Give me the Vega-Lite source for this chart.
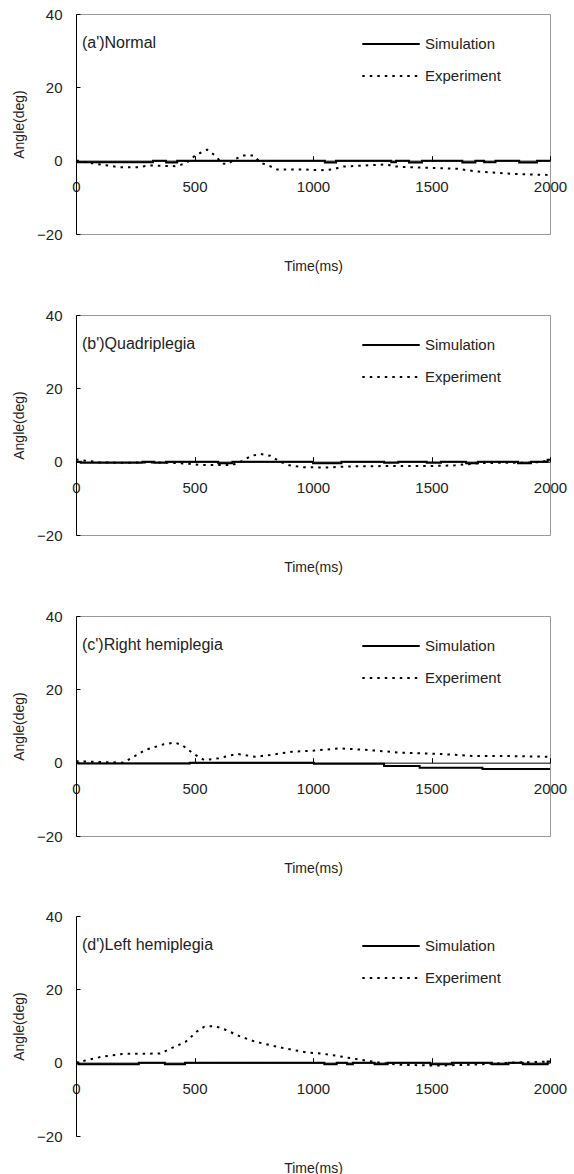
{
  "$schema": "https://vega.github.io/schema/vega-lite/v6.json",
  "padding": {"left": 12, "top": 6, "right": 5, "bottom": 0},
  "spacing": 32,
  "config": {
    "font": "Liberation Sans",
    "view": {"stroke": "#999", "strokeWidth": 1},
    "legend": {"orient": "none", "legendX": 285, "legendY": 20, "title": null, "symbolType": "stroke", "symbolSize": 3300, "symbolStrokeWidth": 2, "symbolStrokeColor": "black", "labelFontSize": 15, "labelColor": "#222", "labelOffset": 4, "clipHeight": 20, "rowPadding": 12}
  },
  "resolve": {"legend": {"strokeDash": "independent"}},
  "datasets": {
    "d": [
      {"p": "a", "s": "Simulation", "t": 0, "v": 0},
      {"p": "a", "s": "Simulation", "t": 8, "v": -0.4},
      {"p": "a", "s": "Simulation", "t": 325, "v": 0},
      {"p": "a", "s": "Simulation", "t": 380, "v": -0.5},
      {"p": "a", "s": "Simulation", "t": 427, "v": 0},
      {"p": "a", "s": "Simulation", "t": 1050, "v": -0.5},
      {"p": "a", "s": "Simulation", "t": 1097, "v": 0},
      {"p": "a", "s": "Simulation", "t": 1330, "v": -0.4},
      {"p": "a", "s": "Simulation", "t": 1350, "v": 0},
      {"p": "a", "s": "Simulation", "t": 1405, "v": -0.5},
      {"p": "a", "s": "Simulation", "t": 1460, "v": 0},
      {"p": "a", "s": "Simulation", "t": 1630, "v": -0.5},
      {"p": "a", "s": "Simulation", "t": 1685, "v": 0},
      {"p": "a", "s": "Simulation", "t": 1722, "v": -0.4},
      {"p": "a", "s": "Simulation", "t": 1770, "v": 0},
      {"p": "a", "s": "Simulation", "t": 1870, "v": -0.5},
      {"p": "a", "s": "Simulation", "t": 1945, "v": 0},
      {"p": "a", "s": "Simulation", "t": 2000, "v": 0},
      {"p": "a", "s": "Experiment", "t": 0, "v": 0},
      {"p": "a", "s": "Experiment", "t": 76, "v": -0.8},
      {"p": "a", "s": "Experiment", "t": 185, "v": -1.8},
      {"p": "a", "s": "Experiment", "t": 262, "v": -1.8},
      {"p": "a", "s": "Experiment", "t": 308, "v": -1.3},
      {"p": "a", "s": "Experiment", "t": 417, "v": -1.5},
      {"p": "a", "s": "Experiment", "t": 455, "v": -0.9},
      {"p": "a", "s": "Experiment", "t": 479, "v": 0},
      {"p": "a", "s": "Experiment", "t": 502, "v": 1.4},
      {"p": "a", "s": "Experiment", "t": 553, "v": 3.0},
      {"p": "a", "s": "Experiment", "t": 587, "v": 1.4},
      {"p": "a", "s": "Experiment", "t": 618, "v": -0.8},
      {"p": "a", "s": "Experiment", "t": 641, "v": -0.9},
      {"p": "a", "s": "Experiment", "t": 671, "v": 0.4},
      {"p": "a", "s": "Experiment", "t": 703, "v": 1.4},
      {"p": "a", "s": "Experiment", "t": 749, "v": 1.4},
      {"p": "a", "s": "Experiment", "t": 780, "v": -0.6},
      {"p": "a", "s": "Experiment", "t": 818, "v": -1.5},
      {"p": "a", "s": "Experiment", "t": 849, "v": -2.4},
      {"p": "a", "s": "Experiment", "t": 957, "v": -2.4},
      {"p": "a", "s": "Experiment", "t": 1034, "v": -2.6},
      {"p": "a", "s": "Experiment", "t": 1081, "v": -2.4},
      {"p": "a", "s": "Experiment", "t": 1127, "v": -1.6},
      {"p": "a", "s": "Experiment", "t": 1220, "v": -1.3},
      {"p": "a", "s": "Experiment", "t": 1312, "v": -1.0},
      {"p": "a", "s": "Experiment", "t": 1336, "v": -1.5},
      {"p": "a", "s": "Experiment", "t": 1374, "v": -1.7},
      {"p": "a", "s": "Experiment", "t": 1608, "v": -2.2},
      {"p": "a", "s": "Experiment", "t": 1684, "v": -2.9},
      {"p": "a", "s": "Experiment", "t": 1838, "v": -3.6},
      {"p": "a", "s": "Experiment", "t": 1995, "v": -3.9},
      {"p": "b", "s": "Simulation", "t": 0, "v": 0},
      {"p": "b", "s": "Simulation", "t": 20, "v": -0.3},
      {"p": "b", "s": "Simulation", "t": 280, "v": 0},
      {"p": "b", "s": "Simulation", "t": 330, "v": -0.3},
      {"p": "b", "s": "Simulation", "t": 380, "v": 0},
      {"p": "b", "s": "Simulation", "t": 600, "v": -0.4},
      {"p": "b", "s": "Simulation", "t": 660, "v": 0},
      {"p": "b", "s": "Simulation", "t": 1000, "v": -0.4},
      {"p": "b", "s": "Simulation", "t": 1120, "v": 0},
      {"p": "b", "s": "Simulation", "t": 1300, "v": -0.3},
      {"p": "b", "s": "Simulation", "t": 1360, "v": 0},
      {"p": "b", "s": "Simulation", "t": 1480, "v": -0.3},
      {"p": "b", "s": "Simulation", "t": 1540, "v": 0},
      {"p": "b", "s": "Simulation", "t": 1646, "v": -0.4},
      {"p": "b", "s": "Simulation", "t": 1696, "v": 0},
      {"p": "b", "s": "Simulation", "t": 1865, "v": -0.4},
      {"p": "b", "s": "Simulation", "t": 1920, "v": 0},
      {"p": "b", "s": "Simulation", "t": 1990, "v": 0.5},
      {"p": "b", "s": "Simulation", "t": 2000, "v": 0.5},
      {"p": "b", "s": "Experiment", "t": 0, "v": 0.6},
      {"p": "b", "s": "Experiment", "t": 50, "v": 0.2},
      {"p": "b", "s": "Experiment", "t": 100, "v": -0.2},
      {"p": "b", "s": "Experiment", "t": 200, "v": -0.3},
      {"p": "b", "s": "Experiment", "t": 300, "v": -0.2},
      {"p": "b", "s": "Experiment", "t": 400, "v": -0.3},
      {"p": "b", "s": "Experiment", "t": 480, "v": -0.6},
      {"p": "b", "s": "Experiment", "t": 520, "v": -0.9},
      {"p": "b", "s": "Experiment", "t": 600, "v": -0.9},
      {"p": "b", "s": "Experiment", "t": 660, "v": -0.9},
      {"p": "b", "s": "Experiment", "t": 700, "v": 0.1},
      {"p": "b", "s": "Experiment", "t": 740, "v": 1.6},
      {"p": "b", "s": "Experiment", "t": 780, "v": 2.1},
      {"p": "b", "s": "Experiment", "t": 820, "v": 1.6},
      {"p": "b", "s": "Experiment", "t": 860, "v": 0},
      {"p": "b", "s": "Experiment", "t": 900, "v": -1.0},
      {"p": "b", "s": "Experiment", "t": 960, "v": -1.5},
      {"p": "b", "s": "Experiment", "t": 1050, "v": -1.6},
      {"p": "b", "s": "Experiment", "t": 1150, "v": -1.3},
      {"p": "b", "s": "Experiment", "t": 1300, "v": -1.2},
      {"p": "b", "s": "Experiment", "t": 1500, "v": -1.2},
      {"p": "b", "s": "Experiment", "t": 1600, "v": -1.0},
      {"p": "b", "s": "Experiment", "t": 1700, "v": -0.4},
      {"p": "b", "s": "Experiment", "t": 1800, "v": -0.3},
      {"p": "b", "s": "Experiment", "t": 1900, "v": -0.3},
      {"p": "b", "s": "Experiment", "t": 1960, "v": -0.1},
      {"p": "b", "s": "Experiment", "t": 2000, "v": 0.5},
      {"p": "c", "s": "Simulation", "t": 0, "v": 0},
      {"p": "c", "s": "Simulation", "t": 10, "v": -0.2},
      {"p": "c", "s": "Simulation", "t": 480, "v": 0},
      {"p": "c", "s": "Simulation", "t": 1004, "v": -0.3},
      {"p": "c", "s": "Simulation", "t": 1300, "v": -0.9},
      {"p": "c", "s": "Simulation", "t": 1450, "v": -1.4},
      {"p": "c", "s": "Simulation", "t": 1715, "v": -1.7},
      {"p": "c", "s": "Simulation", "t": 2000, "v": -1.7},
      {"p": "c", "s": "Experiment", "t": 0, "v": 0.4},
      {"p": "c", "s": "Experiment", "t": 100, "v": 0.2},
      {"p": "c", "s": "Experiment", "t": 200, "v": 0},
      {"p": "c", "s": "Experiment", "t": 232, "v": 1.2},
      {"p": "c", "s": "Experiment", "t": 293, "v": 3.5},
      {"p": "c", "s": "Experiment", "t": 370, "v": 5.0},
      {"p": "c", "s": "Experiment", "t": 416, "v": 5.5},
      {"p": "c", "s": "Experiment", "t": 448, "v": 4.8},
      {"p": "c", "s": "Experiment", "t": 494, "v": 2.5},
      {"p": "c", "s": "Experiment", "t": 541, "v": 0.7},
      {"p": "c", "s": "Experiment", "t": 602, "v": 1.2},
      {"p": "c", "s": "Experiment", "t": 680, "v": 2.4},
      {"p": "c", "s": "Experiment", "t": 757, "v": 1.6},
      {"p": "c", "s": "Experiment", "t": 818, "v": 2.1},
      {"p": "c", "s": "Experiment", "t": 911, "v": 3.0},
      {"p": "c", "s": "Experiment", "t": 1004, "v": 3.3},
      {"p": "c", "s": "Experiment", "t": 1112, "v": 3.9},
      {"p": "c", "s": "Experiment", "t": 1221, "v": 3.5},
      {"p": "c", "s": "Experiment", "t": 1375, "v": 2.7},
      {"p": "c", "s": "Experiment", "t": 1530, "v": 2.4},
      {"p": "c", "s": "Experiment", "t": 1684, "v": 1.8},
      {"p": "c", "s": "Experiment", "t": 1838, "v": 1.8},
      {"p": "c", "s": "Experiment", "t": 1995, "v": 1.6},
      {"p": "d", "s": "Simulation", "t": 0, "v": 0},
      {"p": "d", "s": "Simulation", "t": 10, "v": -0.4},
      {"p": "d", "s": "Simulation", "t": 265, "v": 0},
      {"p": "d", "s": "Simulation", "t": 375, "v": -0.4},
      {"p": "d", "s": "Simulation", "t": 460, "v": 0},
      {"p": "d", "s": "Simulation", "t": 1048, "v": -0.4},
      {"p": "d", "s": "Simulation", "t": 1100, "v": 0},
      {"p": "d", "s": "Simulation", "t": 1144, "v": -0.4},
      {"p": "d", "s": "Simulation", "t": 1168, "v": 0},
      {"p": "d", "s": "Simulation", "t": 1260, "v": -0.4},
      {"p": "d", "s": "Simulation", "t": 1315, "v": 0},
      {"p": "d", "s": "Simulation", "t": 1495, "v": -0.4},
      {"p": "d", "s": "Simulation", "t": 1586, "v": 0},
      {"p": "d", "s": "Simulation", "t": 1755, "v": -0.4},
      {"p": "d", "s": "Simulation", "t": 1825, "v": 0},
      {"p": "d", "s": "Simulation", "t": 1885, "v": -0.4},
      {"p": "d", "s": "Simulation", "t": 1990, "v": 0.3},
      {"p": "d", "s": "Simulation", "t": 2000, "v": 0.3},
      {"p": "d", "s": "Experiment", "t": 0, "v": 0},
      {"p": "d", "s": "Experiment", "t": 46, "v": 0.7},
      {"p": "d", "s": "Experiment", "t": 108, "v": 1.6},
      {"p": "d", "s": "Experiment", "t": 200, "v": 2.4},
      {"p": "d", "s": "Experiment", "t": 262, "v": 2.4},
      {"p": "d", "s": "Experiment", "t": 355, "v": 2.5},
      {"p": "d", "s": "Experiment", "t": 401, "v": 3.9},
      {"p": "d", "s": "Experiment", "t": 463, "v": 5.7},
      {"p": "d", "s": "Experiment", "t": 510, "v": 8.5},
      {"p": "d", "s": "Experiment", "t": 541, "v": 9.8},
      {"p": "d", "s": "Experiment", "t": 587, "v": 10.0},
      {"p": "d", "s": "Experiment", "t": 633, "v": 8.9},
      {"p": "d", "s": "Experiment", "t": 695, "v": 7.1},
      {"p": "d", "s": "Experiment", "t": 757, "v": 5.7},
      {"p": "d", "s": "Experiment", "t": 818, "v": 4.8},
      {"p": "d", "s": "Experiment", "t": 880, "v": 3.9},
      {"p": "d", "s": "Experiment", "t": 973, "v": 2.8},
      {"p": "d", "s": "Experiment", "t": 1035, "v": 2.5},
      {"p": "d", "s": "Experiment", "t": 1097, "v": 1.9},
      {"p": "d", "s": "Experiment", "t": 1190, "v": 0.9},
      {"p": "d", "s": "Experiment", "t": 1283, "v": 0},
      {"p": "d", "s": "Experiment", "t": 1375, "v": -0.6},
      {"p": "d", "s": "Experiment", "t": 1530, "v": -0.8},
      {"p": "d", "s": "Experiment", "t": 1684, "v": -0.5},
      {"p": "d", "s": "Experiment", "t": 1777, "v": -0.2},
      {"p": "d", "s": "Experiment", "t": 1838, "v": 0},
      {"p": "d", "s": "Experiment", "t": 1995, "v": 0.3}
    ]
  },
  "vconcat": [
    {
      "width": 474, "height": 220,
      "layer": [
        {"data": {"name": "d"}, "transform": [{"filter": "datum.p == 'a' && datum.s == 'Simulation'"}],
         "mark": {"type": "line", "interpolate": "step-after", "color": "black", "strokeWidth": 2},
         "encoding": {
           "x": {"field": "t", "type": "quantitative", "scale": {"domain": [0, 2000]}, "title": "Time(ms)", "axis": {"offset": -73.33, "values": [0, 500, 1000, 1500, 2000], "format": "d", "grid": false, "domainColor": "black", "tickColor": "black", "tickSize": -5, "labelPadding": 24, "labelFlush": false, "labelOverlap": false, "labelFontSize": 15, "labelColor": "#222", "titleFontSize": 14, "titleFontWeight": "normal", "titleColor": "#222", "titlePadding": 65}},
           "y": {"field": "v", "type": "quantitative", "scale": {"domain": [-20, 40]}, "title": "Angle(deg)", "axis": {"values": [-20, 0, 20, 40], "grid": false, "domainColor": "black", "tickColor": "black", "tickSize": -4, "labelPadding": 18, "labelFontSize": 15, "labelColor": "#222", "titleFontSize": 14, "titleFontWeight": "normal", "titleColor": "#222", "titlePadding": 10}},
           "strokeDash": {"field": "s", "type": "nominal", "scale": {"domain": ["Simulation", "Experiment"], "range": [[1, 0], [2.5, 5]]}}}},
        {"data": {"name": "d"}, "transform": [{"filter": "datum.p == 'a' && datum.s == 'Experiment'"}],
         "mark": {"type": "line", "color": "black", "strokeWidth": 2},
         "encoding": {"x": {"field": "t", "type": "quantitative"}, "y": {"field": "v", "type": "quantitative"}, "strokeDash": {"field": "s", "type": "nominal"}}},
        {"data": {"values": [{"label": "(a')Normal"}]},
         "mark": {"type": "text", "align": "left", "baseline": "middle", "fontSize": 16, "color": "#222"},
         "encoding": {"x": {"datum": 25}, "y": {"datum": 32}, "text": {"field": "label"}}}
      ]
    },
    {
      "width": 474, "height": 220,
      "layer": [
        {"data": {"name": "d"}, "transform": [{"filter": "datum.p == 'b' && datum.s == 'Simulation'"}],
         "mark": {"type": "line", "interpolate": "step-after", "color": "black", "strokeWidth": 2},
         "encoding": {
           "x": {"field": "t", "type": "quantitative", "scale": {"domain": [0, 2000]}, "title": "Time(ms)", "axis": {"offset": -73.33, "values": [0, 500, 1000, 1500, 2000], "format": "d", "grid": false, "domainColor": "black", "tickColor": "black", "tickSize": -5, "labelPadding": 24, "labelFlush": false, "labelOverlap": false, "labelFontSize": 15, "labelColor": "#222", "titleFontSize": 14, "titleFontWeight": "normal", "titleColor": "#222", "titlePadding": 65}},
           "y": {"field": "v", "type": "quantitative", "scale": {"domain": [-20, 40]}, "title": "Angle(deg)", "axis": {"values": [-20, 0, 20, 40], "grid": false, "domainColor": "black", "tickColor": "black", "tickSize": -4, "labelPadding": 18, "labelFontSize": 15, "labelColor": "#222", "titleFontSize": 14, "titleFontWeight": "normal", "titleColor": "#222", "titlePadding": 10}},
           "strokeDash": {"field": "s", "type": "nominal", "scale": {"domain": ["Simulation", "Experiment"], "range": [[1, 0], [2.5, 5]]}}}},
        {"data": {"name": "d"}, "transform": [{"filter": "datum.p == 'b' && datum.s == 'Experiment'"}],
         "mark": {"type": "line", "color": "black", "strokeWidth": 2},
         "encoding": {"x": {"field": "t", "type": "quantitative"}, "y": {"field": "v", "type": "quantitative"}, "strokeDash": {"field": "s", "type": "nominal"}}},
        {"data": {"values": [{"label": "(b')Quadriplegia"}]},
         "mark": {"type": "text", "align": "left", "baseline": "middle", "fontSize": 16, "color": "#222"},
         "encoding": {"x": {"datum": 25}, "y": {"datum": 32}, "text": {"field": "label"}}}
      ]
    },
    {
      "width": 474, "height": 220,
      "layer": [
        {"data": {"name": "d"}, "transform": [{"filter": "datum.p == 'c' && datum.s == 'Simulation'"}],
         "mark": {"type": "line", "interpolate": "step-after", "color": "black", "strokeWidth": 2},
         "encoding": {
           "x": {"field": "t", "type": "quantitative", "scale": {"domain": [0, 2000]}, "title": "Time(ms)", "axis": {"offset": -73.33, "values": [0, 500, 1000, 1500, 2000], "format": "d", "grid": false, "domainColor": "black", "tickColor": "black", "tickSize": -5, "labelPadding": 24, "labelFlush": false, "labelOverlap": false, "labelFontSize": 15, "labelColor": "#222", "titleFontSize": 14, "titleFontWeight": "normal", "titleColor": "#222", "titlePadding": 65}},
           "y": {"field": "v", "type": "quantitative", "scale": {"domain": [-20, 40]}, "title": "Angle(deg)", "axis": {"values": [-20, 0, 20, 40], "grid": false, "domainColor": "black", "tickColor": "black", "tickSize": -4, "labelPadding": 18, "labelFontSize": 15, "labelColor": "#222", "titleFontSize": 14, "titleFontWeight": "normal", "titleColor": "#222", "titlePadding": 10}},
           "strokeDash": {"field": "s", "type": "nominal", "scale": {"domain": ["Simulation", "Experiment"], "range": [[1, 0], [2.5, 5]]}}}},
        {"data": {"name": "d"}, "transform": [{"filter": "datum.p == 'c' && datum.s == 'Experiment'"}],
         "mark": {"type": "line", "color": "black", "strokeWidth": 2},
         "encoding": {"x": {"field": "t", "type": "quantitative"}, "y": {"field": "v", "type": "quantitative"}, "strokeDash": {"field": "s", "type": "nominal"}}},
        {"data": {"values": [{"label": "(c')Right hemiplegia"}]},
         "mark": {"type": "text", "align": "left", "baseline": "middle", "fontSize": 16, "color": "#222"},
         "encoding": {"x": {"datum": 25}, "y": {"datum": 32}, "text": {"field": "label"}}}
      ]
    },
    {
      "width": 474, "height": 220,
      "view": {"stroke": null},
      "layer": [
        {"data": {"name": "d"}, "transform": [{"filter": "datum.p == 'd' && datum.s == 'Simulation'"}],
         "mark": {"type": "line", "interpolate": "step-after", "color": "black", "strokeWidth": 2},
         "encoding": {
           "x": {"field": "t", "type": "quantitative", "scale": {"domain": [0, 2000]}, "title": "Time(ms)", "axis": {"offset": -73.33, "values": [0, 500, 1000, 1500, 2000], "format": "d", "grid": false, "domainColor": "black", "tickColor": "black", "tickSize": -5, "labelPadding": 24, "labelFlush": false, "labelOverlap": false, "labelFontSize": 15, "labelColor": "#222", "titleFontSize": 14, "titleFontWeight": "normal", "titleColor": "#222", "titlePadding": 65}},
           "y": {"field": "v", "type": "quantitative", "scale": {"domain": [-20, 40]}, "title": "Angle(deg)", "axis": {"values": [-20, 0, 20, 40], "grid": false, "domainColor": "black", "tickColor": "black", "tickSize": -4, "labelPadding": 18, "labelFontSize": 15, "labelColor": "#222", "titleFontSize": 14, "titleFontWeight": "normal", "titleColor": "#222", "titlePadding": 10}},
           "strokeDash": {"field": "s", "type": "nominal", "scale": {"domain": ["Simulation", "Experiment"], "range": [[1, 0], [2.5, 5]]}}}},
        {"data": {"name": "d"}, "transform": [{"filter": "datum.p == 'd' && datum.s == 'Experiment'"}],
         "mark": {"type": "line", "color": "black", "strokeWidth": 2},
         "encoding": {"x": {"field": "t", "type": "quantitative"}, "y": {"field": "v", "type": "quantitative"}, "strokeDash": {"field": "s", "type": "nominal"}}},
        {"data": {"values": [{"label": "(d')Left hemiplegia"}]},
         "mark": {"type": "text", "align": "left", "baseline": "middle", "fontSize": 16, "color": "#222"},
         "encoding": {"x": {"datum": 25}, "y": {"datum": 32}, "text": {"field": "label"}}}
      ]
    }
  ]
}
